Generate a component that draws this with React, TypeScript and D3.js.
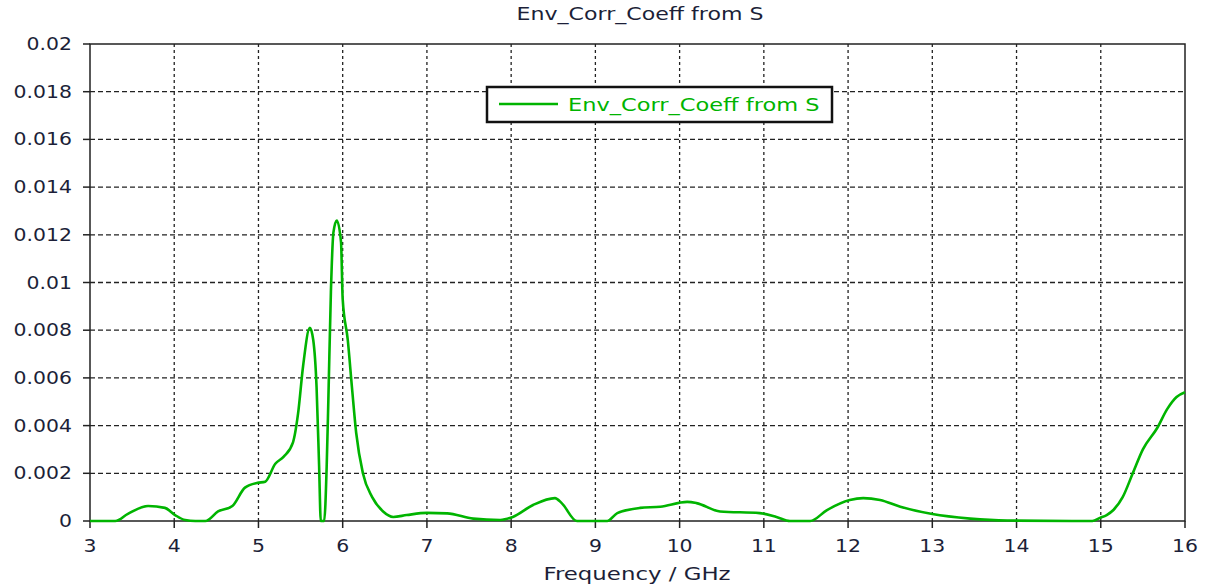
import React, { useEffect, useRef } from "react";
import * as d3 from "d3";

// Frequency in GHz and the envelope correlation coefficient
const freq = [
  3.0, 3.3, 3.45, 3.69, 3.89, 4.01, 4.13, 4.25, 4.37, 4.52, 4.69, 4.84, 4.99, 5.08, 5.2,
  5.3, 5.41, 5.47, 5.53, 5.61, 5.65, 5.69, 5.72, 5.74, 5.78, 5.81, 5.83, 5.86, 5.89,
  5.93, 5.98, 6.0, 6.06, 6.11, 6.16, 6.24, 6.35, 6.48, 6.6, 6.76, 7.0, 7.24, 7.55,
  7.87, 8.02, 8.26, 8.52, 8.6, 8.78, 9.14, 9.26, 9.53, 9.77, 10.09, 10.2, 10.48,
  10.95, 11.15, 11.31, 11.55, 11.75, 12.02, 12.18, 12.38, 12.62, 13.0, 13.45,
  13.89, 14.9, 14.99, 15.07, 15.15, 15.26, 15.38, 15.5, 15.67, 15.79, 15.9, 16.0,
];
const coeff = [
  0.0, 0.0, 0.0003, 0.00063, 0.00055, 0.00025, 0.00004, 0.0, 0.0, 0.0004, 0.00063, 0.0014,
  0.0016, 0.00165, 0.0024, 0.0027, 0.0033, 0.0045, 0.0065, 0.0081, 0.0076, 0.0056,
  0.0023, 0.0, 0.0, 0.0023, 0.0051, 0.0096, 0.0121, 0.0126, 0.0117, 0.0093, 0.0076,
  0.0056, 0.0037, 0.002, 0.001, 0.0004, 0.00017, 0.00025, 0.00034, 0.00032, 0.0001,
  0.00004, 0.00017, 0.00067, 0.00096, 0.00075, 0.0, 0.0, 0.00033, 0.00055, 0.0006,
  0.0008, 0.00075, 0.0004, 0.00033, 0.00017, 0.0, 0.0, 0.00046, 0.00088, 0.00096,
  0.00088, 0.0006, 0.00029, 0.0001, 0.00002, 0.0, 0.00013, 0.00025, 0.00046, 0.001,
  0.002, 0.003, 0.0039, 0.0047, 0.0052, 0.0054,
];
const xTicks = [3, 4, 5, 6, 7, 8, 9, 10, 11, 12, 13, 14, 15, 16];
const yTicks = [0, 0.002, 0.004, 0.006, 0.008, 0.01, 0.012, 0.014, 0.016, 0.018, 0.02];
const title = "Env_Corr_Coeff from S";
const seriesName = "Env_Corr_Coeff from S";
const xLabel = "Frequency / GHz";

const App = () => {
  const ref = useRef(null);

  useEffect(() => {
    const svg = d3.select(ref.current);
    svg.selectAll("*").remove();

    const width = 1208;
    const height = 588;
    const margin = { top: 44, right: 23, bottom: 67, left: 90 };
    const font = "Tahoma, 'DejaVu Sans', Verdana, sans-serif";
    const textColor = "#1c1f38";
    const green = "#00b400";
    const stretch = 1.2;

    const data = freq.map((f, i) => ({ f, v: coeff[i] }));

    const x = d3.scaleLinear()
      .domain([3, 16])
      .range([margin.left, width - margin.right]);

    const y = d3.scaleLinear()
      .domain([0, 0.02])
      .range([height - margin.bottom, margin.top]);

    svg.append("rect")
      .attr("width", width)
      .attr("height", height)
      .attr("fill", "#fff");

    // grid
    svg.append("g")
      .selectAll("line")
      .data(yTicks.slice(1, -1))
      .join("line")
      .attr("x1", x(3))
      .attr("x2", x(16))
      .attr("y1", d => y(d))
      .attr("y2", d => y(d))
      .attr("stroke", "#222")
      .attr("stroke-width", 1.3)
      .attr("stroke-dasharray", "5,3");

    svg.append("g")
      .selectAll("line")
      .data(xTicks.slice(1, -1))
      .join("line")
      .attr("x1", d => x(d))
      .attr("x2", d => x(d))
      .attr("y1", y(0.02))
      .attr("y2", y(0))
      .attr("stroke", "#222")
      .attr("stroke-width", 1.3)
      .attr("stroke-dasharray", "3,3");

    // frame
    svg.append("rect")
      .attr("x", x(3))
      .attr("y", y(0.02))
      .attr("width", x(16) - x(3))
      .attr("height", y(0) - y(0.02))
      .attr("fill", "none")
      .attr("stroke", "#222")
      .attr("stroke-width", 1.5);

    // y ticks + labels
    const yg = svg.append("g");
    yg.selectAll("line")
      .data(yTicks)
      .join("line")
      .attr("x1", x(3) - 7)
      .attr("x2", x(3))
      .attr("y1", d => y(d))
      .attr("y2", d => y(d))
      .attr("stroke", "#222")
      .attr("stroke-width", 1.5);
    yg.selectAll("text")
      .data(yTicks)
      .join("text")
      .attr("transform", d => `translate(${x(3) - 18},${y(d) + 6}) scale(${stretch},1)`)
      .attr("text-anchor", "end")
      .attr("font-family", font)
      .attr("font-size", 17)
      .attr("fill", textColor)
      .text(d => d3.format("")(+d.toFixed(3)));

    // x ticks + labels
    const xg = svg.append("g");
    xg.selectAll("line")
      .data(xTicks)
      .join("line")
      .attr("x1", d => x(d))
      .attr("x2", d => x(d))
      .attr("y1", y(0))
      .attr("y2", y(0) + 7)
      .attr("stroke", "#222")
      .attr("stroke-width", 1.5);
    xg.selectAll("text")
      .data(xTicks)
      .join("text")
      .attr("transform", d => `translate(${x(d)},${y(0) + 31}) scale(${stretch},1)`)
      .attr("text-anchor", "middle")
      .attr("font-family", font)
      .attr("font-size", 17)
      .attr("fill", textColor)
      .text(d => d);

    // curve
    const line = d3.line()
      .x(d => x(d.f))
      .y(d => y(d.v))
      .curve(d3.curveMonotoneX);

    svg.append("path")
      .datum(data)
      .attr("fill", "none")
      .attr("stroke", green)
      .attr("stroke-width", 2.6)
      .attr("stroke-linejoin", "round")
      .attr("d", line);

    // title and axis label
    svg.append("text")
      .attr("transform", `translate(640,20) scale(1.3,1)`)
      .attr("text-anchor", "middle")
      .attr("font-family", font)
      .attr("font-size", 17)
      .attr("fill", textColor)
      .text(title);

    svg.append("text")
      .attr("transform", `translate(637,580) scale(1.27,1)`)
      .attr("text-anchor", "middle")
      .attr("font-family", font)
      .attr("font-size", 18)
      .attr("fill", textColor)
      .text(xLabel);

    // legend
    const lg = svg.append("g");
    lg.append("rect")
      .attr("x", 487)
      .attr("y", 87)
      .attr("width", 345)
      .attr("height", 35)
      .attr("fill", "#fff")
      .attr("stroke", "#111")
      .attr("stroke-width", 2.5);
    lg.append("line")
      .attr("x1", 499)
      .attr("x2", 558)
      .attr("y1", 104)
      .attr("y2", 104)
      .attr("stroke", green)
      .attr("stroke-width", 2.6);
    lg.append("text")
      .attr("transform", `translate(568,111) scale(1.25,1)`)
      .attr("font-family", font)
      .attr("font-size", 18)
      .attr("fill", green)
      .text(seriesName);
  }, []);

  return (
    <svg
      ref={ref}
      width={1208}
      height={588}
      style={{ position: "absolute", left: 0, top: 0 }}
    ></svg>
  );
};

export default App;
